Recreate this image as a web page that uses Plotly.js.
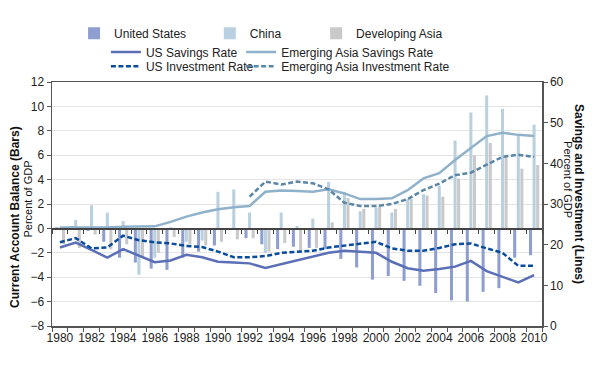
<!DOCTYPE html>
<html>
<head>
<meta charset="utf-8">
<script src="https://cdn.plot.ly/plotly-3.0.1.min.js"></script>
<style>html,body{margin:0;padding:0;background:#fff;}#chart{width:600px;height:372px;}</style>
</head>
<body>
<div id="chart"></div>
<script>
const years = [1980,1981,1982,1983,1984,1985,1986,1987,1988,1989,1990,1991,1992,1993,1994,1995,1996,1997,1998,1999,2000,2001,2002,2003,2004,2005,2006,2007,2008,2009,2010];
const usCA = [0.1,0.2,-0.2,-1.1,-2.4,-2.8,-3.3,-3.4,-2.4,-1.9,-1.4,0.0,-0.8,-1.3,-1.7,-1.5,-1.6,-1.7,-2.5,-3.2,-4.2,-3.9,-4.3,-4.7,-5.3,-5.9,-6.0,-5.2,-4.9,-2.4,-2.2];
const chinaCA = [0.1,0.7,1.9,1.3,0.6,-3.8,-2.4,0.1,-1.1,-1.0,3.0,3.2,1.3,-2.0,1.3,0.2,0.8,3.8,3.0,1.4,1.7,1.3,2.4,2.8,3.5,7.2,9.5,10.9,9.8,7.7,8.5];
const devAsiaCA = [-1.3,-1.6,-0.5,-1.7,-1.3,-2.4,-2.0,-0.7,-1.3,-1.4,-1.1,-0.9,-0.8,-1.9,-1.2,-2.0,-1.6,0.5,2.5,1.6,1.8,1.6,2.4,2.7,2.6,4.1,6.0,7.0,5.9,4.9,5.2];
const usSavings = [19.3,20.5,18.7,16.8,18.9,17.3,15.7,16.1,17.5,16.9,15.8,15.6,15.4,14.3,15.2,16.2,17.0,18.0,18.5,18.3,18.0,15.8,14.2,13.6,14.0,14.6,16.0,13.5,12.1,10.7,12.5];
const usInvestment = [20.6,21.6,19.1,19.3,22.2,21.1,20.6,20.3,19.7,19.4,18.3,16.9,16.9,17.2,18.0,18.3,18.5,19.3,19.8,20.3,20.7,19.1,18.5,18.5,19.2,20.1,20.3,19.1,18.0,14.8,14.8];
const eaSavings = [24.2,24.2,24.2,24.2,24.4,24.5,24.5,25.6,26.9,27.9,28.7,29.2,29.5,33.0,33.3,33.2,33.0,33.6,32.6,31.2,31.2,31.4,33.4,36.3,37.6,40.8,43.7,46.7,47.5,47.0,46.7];
const eaInvestment = [null,null,null,null,null,null,null,null,null,null,null,null,31.8,35.5,34.8,35.5,35.1,33.6,30.3,29.5,29.5,30.0,31.2,33.4,35.0,37.1,37.7,39.6,41.6,42.1,41.6];
const xTickLabels = ['1980','1982','1984','1986','1988','1990','1992','1994','1996','1998','2000','2002','2004','2006','2008','2010'];

const FONT = '"Liberation Sans",Arial,sans-serif';
const xTickVals = xTickLabels.map(Number);
const boundaries = years.map(y => y - 0.5).concat([years[years.length-1] + 0.5]);

const traces = [
  {type:'bar', name:'United States', x:years, y:usCA, marker:{color:'#8f9ed1'}, legend:'legend', hoverinfo:'skip'},
  {type:'bar', name:'China', x:years, y:chinaCA, marker:{color:'#b9d0e1'}, legend:'legend2', hoverinfo:'skip'},
  {type:'bar', name:'Developing Asia', x:years, y:devAsiaCA, marker:{color:'#c9c9c9'}, legend:'legend3', hoverinfo:'skip'},
  {type:'scatter', mode:'lines', name:'US Savings Rate', x:years, y:usSavings, yaxis:'y2', line:{color:'#5b6fb6', width:2.5}, legend:'legend4'},
  {type:'scatter', mode:'lines', name:'US Investment Rate', x:years, y:usInvestment, yaxis:'y2', line:{color:'#0a4c9c', width:2.5, dash:'5px,2.5px'}, legend:'legend6'},
  {type:'scatter', mode:'lines', name:'Emerging Asia Savings Rate', x:years, y:eaSavings, yaxis:'y2', line:{color:'#8fb1ca', width:2.5}, legend:'legend5'},
  {type:'scatter', mode:'lines', name:'Emerging Asia Investment Rate', x:years, y:eaInvestment, yaxis:'y2', line:{color:'#5a86a8', width:2.5, dash:'5px,2.5px'}, legend:'legend7', connectgaps:false},
  {type:'scatter', mode:'lines', x:[], y:[], xaxis:'x2', yaxis:'y', showlegend:false, hoverinfo:'skip'}
];

const legendBase = {orientation:'h', xanchor:'left', yanchor:'middle', bgcolor:'rgba(0,0,0,0)', font:{family:FONT, size:12, color:'#222'}};

const layout = {
  width:600, height:372,
  margin:{l:52, r:58, t:82, b:46},
  paper_bgcolor:'#fff', plot_bgcolor:'#fff',
  font:{family:FONT, size:12, color:'#222'},
  barmode:'group', bargap:0.32, bargroupgap:0.15,
  showlegend:true,
  xaxis:{range:[1979.5,2010.5], tickvals:xTickVals, ticktext:xTickLabels, ticks:'', showgrid:false, zeroline:false,
         showline:true, linecolor:'#555', linewidth:1.5, mirror:true,
         tickfont:{family:FONT, size:12, color:'#222'},
         minor:{tickvals:boundaries, ticks:'outside', ticklen:4, tickcolor:'#555', showgrid:false}},
  xaxis2:{range:[1979.5,2010.5], overlaying:'x', anchor:'free', position:0.4, showline:true, linecolor:'#444', linewidth:1.5,
          tickvals:boundaries, ticks:'outside', ticklen:4, tickcolor:'#444', showticklabels:false, showgrid:false, zeroline:false},
  yaxis:{range:[-8,12], dtick:2, tick0:0, ticks:'outside', ticklen:4, tickcolor:'#555', showline:true, linecolor:'#555', linewidth:1.5,
         showgrid:true, gridcolor:'#e4e4e4', gridwidth:1, zeroline:false, tickfont:{family:FONT, size:12, color:'#222'}},
  yaxis2:{range:[0,60], dtick:10, overlaying:'y', side:'right', ticks:'outside', ticklen:4, tickcolor:'#555', showline:true, linecolor:'#555', linewidth:1.5,
          showgrid:false, zeroline:false, tickfont:{family:FONT, size:12, color:'#222'}},
  legend:Object.assign({}, legendBase, {x:0.045, y:1.20}),
  legend2:Object.assign({}, legendBase, {x:0.322, y:1.20}),
  legend3:Object.assign({}, legendBase, {x:0.539, y:1.20}),
  legend4:Object.assign({}, legendBase, {x:0.110, y:1.123}),
  legend5:Object.assign({}, legendBase, {x:0.386, y:1.123}),
  legend6:Object.assign({}, legendBase, {x:0.110, y:1.065}),
  legend7:Object.assign({}, legendBase, {x:0.386, y:1.065}),
  annotations:[
    {text:'<b>Current Account Balance (Bars)</b>', xref:'paper', yref:'paper', x:-0.0755, y:0.447, xanchor:'center', yanchor:'middle', textangle:-90, showarrow:false, font:{family:FONT, size:12, color:'#111'}},
    {text:'Percent of GDP', xref:'paper', yref:'paper', x:-0.049, y:0.5225, xanchor:'center', yanchor:'middle', textangle:-90, showarrow:false, font:{family:FONT, size:11, color:'#111'}},
    {text:'<b>Savings and Investment (Lines)</b>', xref:'paper', yref:'paper', x:1.0755, y:0.541, xanchor:'center', yanchor:'middle', textangle:90, showarrow:false, font:{family:FONT, size:12, color:'#111'}},
    {text:'Percent of GDP', xref:'paper', yref:'paper', x:1.053, y:0.598, xanchor:'center', yanchor:'middle', textangle:90, showarrow:false, font:{family:FONT, size:11, color:'#111'}}
  ]
};

Plotly.newPlot('chart', traces, layout, {displayModeBar:false, staticPlot:true});
</script>
</body>
</html>
